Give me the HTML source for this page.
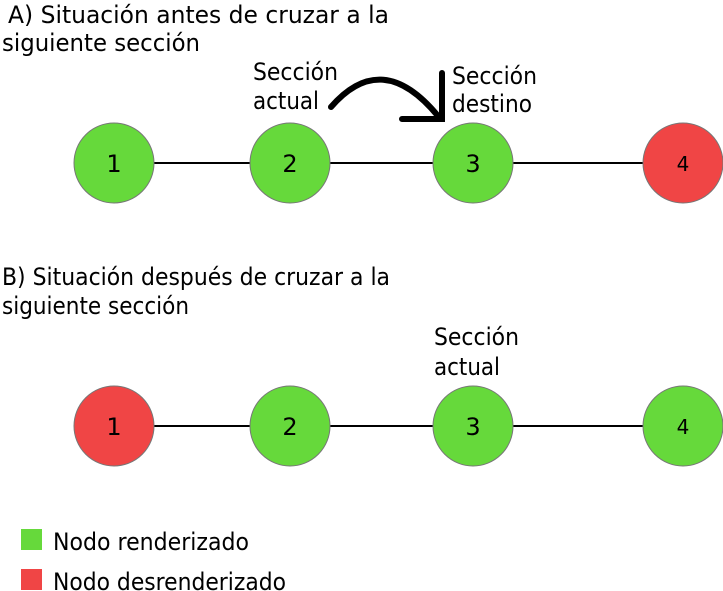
<!DOCTYPE html>
<html><head><meta charset="utf-8"><style>html,body{margin:0;padding:0;background:#fff}svg{display:block}</style></head><body>
<svg width="723" height="591" xmlns="http://www.w3.org/2000/svg" font-family="DejaVu Sans, Liberation Sans, sans-serif" font-size="24" fill="#000">
<g stroke="#000" stroke-width="2">
<line x1="114" y1="163" x2="683" y2="163"/>
<line x1="114" y1="426" x2="683" y2="426"/>
</g>
<g stroke="#777" stroke-width="1">
<circle cx="114" cy="163" r="40" fill="#66d93b"/>
<circle cx="290" cy="163" r="40" fill="#66d93b"/>
<circle cx="473" cy="163" r="40" fill="#66d93b"/>
<circle cx="683" cy="163" r="40" fill="#f04545"/>
<circle cx="114" cy="426" r="40" fill="#f04545"/>
<circle cx="290" cy="426" r="40" fill="#66d93b"/>
<circle cx="473" cy="426" r="40" fill="#66d93b"/>
<circle cx="683" cy="426" r="40" fill="#66d93b"/>
</g>
<g font-size="24" text-anchor="middle">
<text x="114" y="172">1</text><text x="290" y="172">2</text><text x="473" y="172">3</text><text x="683" y="171" font-size="20">4</text>
<text x="114" y="435">1</text><text x="290" y="435">2</text><text x="473" y="435">3</text><text x="683" y="434" font-size="20">4</text>
</g>
<path d="M331 107 Q382 48 438 116" fill="none" stroke="#000" stroke-width="6" stroke-linecap="round"/>
<path d="M442 73 V119 H402" fill="none" stroke="#000" stroke-width="6" stroke-linecap="round" stroke-linejoin="miter"/>
<text x="8" y="23" textLength="381" lengthAdjust="spacingAndGlyphs">A) Situación antes de cruzar a la</text>
<text x="2" y="51" textLength="198" lengthAdjust="spacingAndGlyphs">siguiente sección</text>
<text x="253" y="80" textLength="85" lengthAdjust="spacingAndGlyphs">Sección</text>
<text x="253" y="109" textLength="66" lengthAdjust="spacingAndGlyphs">actual</text>
<text x="452" y="84" textLength="85" lengthAdjust="spacingAndGlyphs">Sección</text>
<text x="452" y="112" textLength="80" lengthAdjust="spacingAndGlyphs">destino</text>
<text x="2" y="285" textLength="388" lengthAdjust="spacingAndGlyphs">B) Situación después de cruzar a la</text>
<text x="2" y="314" textLength="187" lengthAdjust="spacingAndGlyphs">siguiente sección</text>
<text x="434" y="345" textLength="85" lengthAdjust="spacingAndGlyphs">Sección</text>
<text x="434" y="375" textLength="66" lengthAdjust="spacingAndGlyphs">actual</text>
<rect x="21" y="529" width="21" height="21" fill="#66d93b"/>
<rect x="21" y="569" width="21" height="21" fill="#f04545"/>
<text x="53" y="550" textLength="196" lengthAdjust="spacingAndGlyphs">Nodo renderizado</text>
<text x="53" y="590" textLength="233" lengthAdjust="spacingAndGlyphs">Nodo desrenderizado</text>
</svg>
</body></html>
